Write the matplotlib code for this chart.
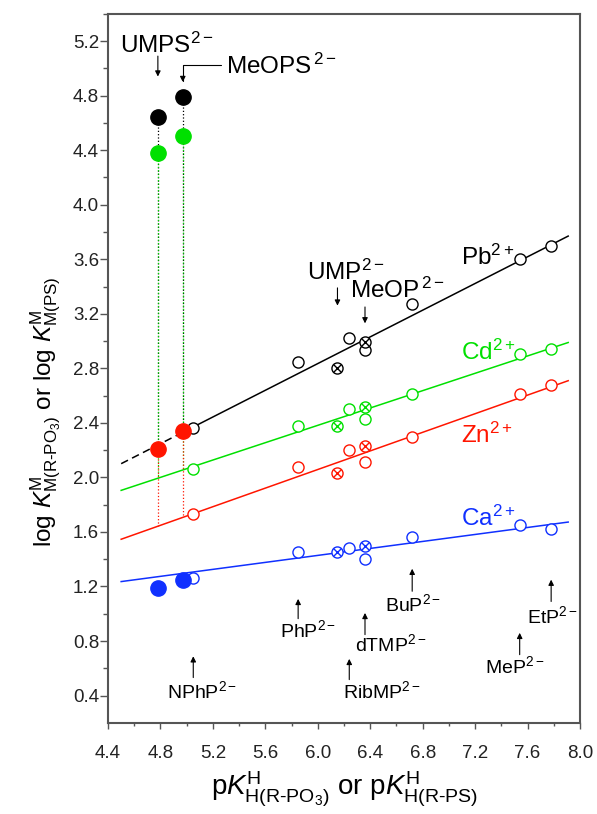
import matplotlib.pyplot as plt
import numpy as np

plt.rcParams["font.family"] = ["Liberation Sans", "DejaVu Sans"]
plt.rcParams["mathtext.fontset"] = "custom"
plt.rcParams["mathtext.rm"] = "Liberation Sans"
plt.rcParams["mathtext.it"] = "Liberation Sans:italic"
plt.rcParams["mathtext.bf"] = "Liberation Sans:bold"

# ----------------------------------------------------------------------
# Datos
# ----------------------------------------------------------------------
open_ligands = ["NPhP", "PhP", "RibMP", "dTMP", "BuP", "MeP", "EtP"]
open_pka = [5.05, 5.85, 6.24, 6.36, 6.72, 7.54, 7.78]
cross_ligands = ["UMP", "MeOP"]
cross_pka = [6.15, 6.36]
thio_ligands = ["UMPS", "MeOPS"]
thio_pka = [4.78, 4.97]

metals = ["Pb", "Cd", "Zn", "Ca"]
metal_colors = ["black", "#00e000", "#ff1500", "#1030ff"]

pb_open = [2.36, 2.845, 3.02, 2.935, 3.275, 3.60, 3.70]
cd_open = [2.06, 2.38, 2.50, 2.43, 2.615, 2.905, 2.945]
zn_open = [1.73, 2.08, 2.20, 2.11, 2.30, 2.61, 2.68]
ca_open = [1.26, 1.455, 1.485, 1.40, 1.565, 1.65, 1.62]

pb_cross = [2.80, 2.99]
cd_cross = [2.38, 2.52]
zn_cross = [2.03, 2.23]
ca_cross = [1.45, 1.50]

pb_thio = [4.64, 4.79]
cd_thio = [4.38, 4.505]
zn_thio = [2.21, 2.34]
ca_thio = [1.19, 1.25]

# rectas de referencia log K = m * pKa + b
fit_slope = [0.4895, 0.318, 0.341, 0.128]
fit_icpt = [-0.102, 0.474, 0.012, 0.660]
fit_xmin, fit_xmax = 4.5, 7.91

open_vals = [pb_open, cd_open, zn_open, ca_open]
cross_vals = [pb_cross, cd_cross, zn_cross, ca_cross]
thio_vals = [pb_thio, cd_thio, zn_thio, ca_thio]

# ----------------------------------------------------------------------
# Figura
# ----------------------------------------------------------------------
fig = plt.figure(figsize=(5.97, 8.14), dpi=100)
ax = fig.add_axes([0.181, 0.112, 0.7905, 0.871])

for i, (name, col) in enumerate(zip(metals, metal_colors)):
    m, b = fit_slope[i], fit_icpt[i]
    if name == "Pb":
        xs = np.array([fit_xmin, open_pka[0]])
        ax.plot(xs, m * xs + b, color=col, lw=1.1, ls=(0, (5, 3)), zorder=2)
        xs = np.array([open_pka[0], fit_xmax])
    else:
        xs = np.array([fit_xmin, fit_xmax])
    ax.plot(xs, m * xs + b, color=col, lw=1.1, zorder=2)

    # líneas punteadas desde los tio-análogos hasta su recta
    if name != "Ca":
        for xp, yp in zip(thio_pka, thio_vals[i]):
            ax.plot([xp, xp], [yp, m * xp + b], color=col, lw=0.9, ls=":",
                    zorder=1 + 0.1 * i)

    ax.plot(open_pka, open_vals[i], "o", ms=8, mfc="white", mec=col, mew=1.0,
            ls="none", zorder=4)
    ax.plot(cross_pka, cross_vals[i], "o", ms=8, mfc="white", mec=col, mew=1.0,
            ls="none", zorder=4)
    ax.plot(cross_pka, cross_vals[i], "x", ms=5.5, color=col, mew=1.0,
            ls="none", zorder=5)
    ax.plot(thio_pka, thio_vals[i], "o", ms=11, color=col, ls="none", zorder=6)

# etiquetas de los metales
metal_label_y = [3.56, 2.865, 2.254, 1.642]
for name, col, yl in zip(metals, metal_colors, metal_label_y):
    ax.text(7.09, yl, name + r"$^{2+}$", color=col, fontsize=17.5, va="baseline")

arrow_kw = dict(arrowstyle="-|>", lw=0.8, color="black", mutation_scale=8,
                shrinkA=0, shrinkB=0)

# anotaciones superiores
ax.text(4.49, 5.115, r"UMPS$^{2-}$", fontsize=17.5, va="baseline")
ax.annotate("", xy=(thio_pka[0], 4.94), xytext=(thio_pka[0], 5.09), arrowprops=arrow_kw)
ax.text(5.30, 4.956, r"MeOPS$^{\,2-}$", fontsize=17.5, va="baseline")
ax.annotate("", xy=(thio_pka[1], 4.90), xytext=(5.26, 5.024),
            arrowprops=dict(arrow_kw, connectionstyle="angle,angleA=0,angleB=90,rad=0"))

ax.text(5.916, 3.447, r"UMP$^{2-}$", fontsize=17.5, va="baseline")
ax.annotate("", xy=(cross_pka[0], 3.26), xytext=(cross_pka[0], 3.39), arrowprops=arrow_kw)
ax.text(6.246, 3.317, r"MeOP$^{\,2-}$", fontsize=17.5, va="baseline")
ax.annotate("", xy=(cross_pka[1], 3.13), xytext=(cross_pka[1], 3.25), arrowprops=arrow_kw)

# etiquetas inferiores (flechas hacia arriba)
bottom_tail = [0.532, 0.964, 0.517, 0.847, 1.165, 0.70, 1.09]
bottom_tip = [0.688, 1.109, 0.669, 1.006, 1.33, 0.86, 1.25]
bottom_text_x = [4.848, 5.712, 6.193, 6.284, 6.513, 7.276, 7.594]
bottom_text_y = [0.431, 0.879, 0.431, 0.774, 1.067, 0.614, 0.981]
for lig, xp, t0, t1, tx, ty in zip(open_ligands, open_pka, bottom_tail, bottom_tip,
                                   bottom_text_x, bottom_text_y):
    ax.annotate("", xy=(xp, t1), xytext=(xp, t0), arrowprops=arrow_kw)
    ax.text(tx, ty, lig + r"$^{2-}$", fontsize=14, va="center")

# ejes
ax.set_xlim(4.4, 8.0)
ax.set_ylim(0.2, 5.4)
ax.set_xticks(np.arange(4.4, 8.01, 0.4))
ax.set_xticks(np.arange(4.6, 8.0, 0.4), minor=True)
ax.set_yticks(np.arange(0.4, 5.21, 0.4))
ax.set_yticks(np.arange(0.6, 5.4, 0.4), minor=True)
ax.xaxis.set_major_formatter(plt.FormatStrFormatter("%.1f"))
ax.yaxis.set_major_formatter(plt.FormatStrFormatter("%.1f"))

for sp in ax.spines.values():
    sp.set_color("#555555")
    sp.set_linewidth(1.5)
ax.tick_params(axis="both", which="both", colors="#555555", labelcolor="#222222",
               labelsize=13.5, direction="out")
ax.tick_params(axis="y", which="major", length=5.5, width=1.0, pad=1)
ax.tick_params(axis="y", which="minor", length=3.5, width=1.0)
ax.tick_params(axis="x", which="major", length=4, width=1.0, pad=12)
ax.tick_params(axis="x", which="minor", length=2.5, width=1.0)

fig.text(0.077, 0.494,
         r"log $K^{\rm M}_{\rm M(R\text{-}PO_3)}$ or log $K^{\rm M}_{\rm M(PS)}$",
         rotation=90, ha="center", va="center", fontsize=17.5)
fig.text(0.576, 0.03,
         r"p$K^{\rm H}_{\rm H(R\text{-}PO_3)}$ or p$K^{\rm H}_{\rm H(R\text{-}PS)}$",
         ha="center", va="center", fontsize=20)

fig.savefig("out.png", dpi=100)
